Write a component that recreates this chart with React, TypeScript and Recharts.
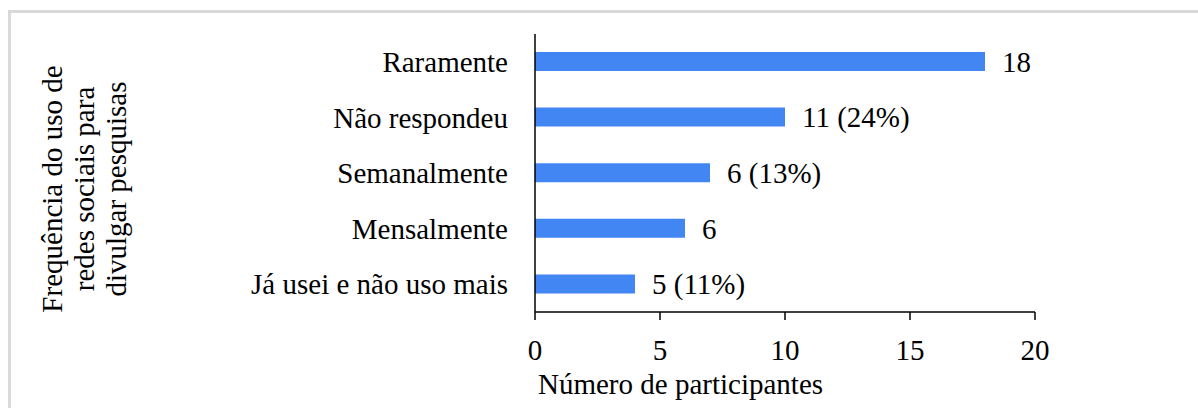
import { BarChart, Bar, XAxis, YAxis, LabelList } from 'recharts';

const categories = ['Raramente', 'Não respondeu', 'Semanalmente', 'Mensalmente', 'Já usei e não uso mais'];
const participants = [18, 10, 7, 6, 4];
const barLabels = ['18', '11 (24%)', '6 (13%)', '6', '5 (11%)'];
const xTicks = [0, 5, 10, 15, 20];
const yTitleLines = ['Frequência do uso de', 'redes sociais para', 'divulgar pesquisas'];
const xTitle = 'Número de participantes';

const FONT = '"Liberation Serif", "Times New Roman", serif';

const rows = categories.map((name, i) => ({ name, value: participants[i], label: barLabels[i] }));

export default function App() {
  return (
    <div style={{ position: 'absolute', left: 0, top: 0, width: 1198, height: 408, background: '#fff', fontFamily: FONT }}>
      <div
        style={{
          position: 'absolute',
          left: 8,
          top: 10,
          right: 0,
          bottom: 0,
          borderLeft: '3px solid #d9d9d9',
          borderTop: '3px solid #d9d9d9',
        }}
      />
      <div style={{ position: 'absolute', left: 0, top: 0 }}>
        <BarChart
          width={1198}
          height={408}
          data={rows}
          layout="vertical"
          margin={{ top: 34, right: 163, bottom: 0, left: 0 }}
          barCategoryGap={0}
        >
          <XAxis
            type="number"
            domain={[0, 20]}
            ticks={xTicks}
            height={96}
            stroke="#000"
            strokeWidth={1.5}
            tickSize={8}
            tickMargin={19}
            tick={{ fontSize: 29, fill: '#000', fontFamily: FONT }}
          />
          <YAxis
            type="category"
            dataKey="name"
            width={535}
            stroke="#000"
            strokeWidth={1.5}
            tickLine={false}
            tickMargin={21}
            tick={{ fontSize: 29, fill: '#000', fontFamily: FONT }}
          />
          <Bar dataKey="value" fill="#4286f4" barSize={19} isAnimationActive={false}>
            <LabelList
              dataKey="label"
              position="right"
              offset={17}
              style={{ fontSize: 29, fill: '#000', fontFamily: FONT }}
            />
          </Bar>
        </BarChart>
      </div>
      <svg width={1198} height={408} style={{ position: 'absolute', left: 0, top: 0, pointerEvents: 'none' }}>
        {yTitleLines.map((line, i) => (
          <text
            key={line}
            transform={`translate(${62 + i * 32}, 189) rotate(-90)`}
            textAnchor="middle"
            fontSize={29}
            fontFamily={FONT}
            fill="#000"
          >
            {line}
          </text>
        ))}
        <text x={538} y={394} fontSize={29} fontFamily={FONT} fill="#000">
          {xTitle}
        </text>
      </svg>
    </div>
  );
}
